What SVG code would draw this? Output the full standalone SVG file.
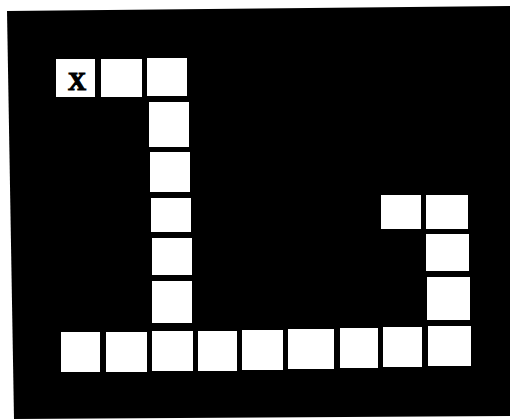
<svg xmlns="http://www.w3.org/2000/svg" width="510" height="419" viewBox="0 0 510 419">
<style>
.cell{fill:#fff}
.lbl{font-family:"Liberation Serif","Times New Roman",serif;font-weight:bold;font-size:25px;fill:#000;stroke:#000;stroke-width:1.2;text-anchor:middle}
</style>
<rect width="510" height="419" fill="#fff"/>
<polygon points="7,11 510,6 510,416 14,419" fill="#000"/>
<g id="cell-x"><rect class="cell" x="56" y="59" width="39" height="38"/><text class="lbl" x="77" y="90">X</text></g>
<g id="cell-t2"><rect class="cell" x="101" y="59" width="41" height="38"/></g>
<g id="cell-t3"><rect class="cell" x="147" y="58" width="40" height="38"/></g>
<g id="cell-c1"><rect class="cell" x="149" y="102" width="40" height="45"/></g>
<g id="cell-c2"><rect class="cell" x="150" y="152" width="40" height="40"/></g>
<g id="cell-c3"><rect class="cell" x="151" y="198" width="40" height="34"/></g>
<g id="cell-c4"><rect class="cell" x="152" y="238" width="40" height="37"/></g>
<g id="cell-c5"><rect class="cell" x="152" y="281" width="40" height="42"/></g>
<g id="cell-b1"><rect class="cell" x="61" y="332" width="39" height="40"/></g>
<g id="cell-b2"><rect class="cell" x="106" y="332" width="41" height="40"/></g>
<g id="cell-b3"><rect class="cell" x="152" y="331" width="41" height="40"/></g>
<g id="cell-b4"><rect class="cell" x="198" y="331" width="39" height="40"/></g>
<g id="cell-b5"><rect class="cell" x="242" y="330" width="41" height="40"/></g>
<g id="cell-b6"><rect class="cell" x="288" y="329" width="46" height="40"/></g>
<g id="cell-b7"><rect class="cell" x="340" y="328" width="38" height="40"/></g>
<g id="cell-b8"><rect class="cell" x="383" y="327" width="39" height="40"/></g>
<g id="cell-b9"><rect class="cell" x="428" y="326" width="43" height="40"/></g>
<g id="cell-r0"><rect class="cell" x="381" y="195" width="40" height="34"/></g>
<g id="cell-r1"><rect class="cell" x="426" y="195" width="42" height="34"/></g>
<g id="cell-r2"><rect class="cell" x="426" y="234" width="43" height="37"/></g>
<g id="cell-r3"><rect class="cell" x="427" y="277" width="43" height="43"/></g>
<g id="connectors"/>
</svg>
